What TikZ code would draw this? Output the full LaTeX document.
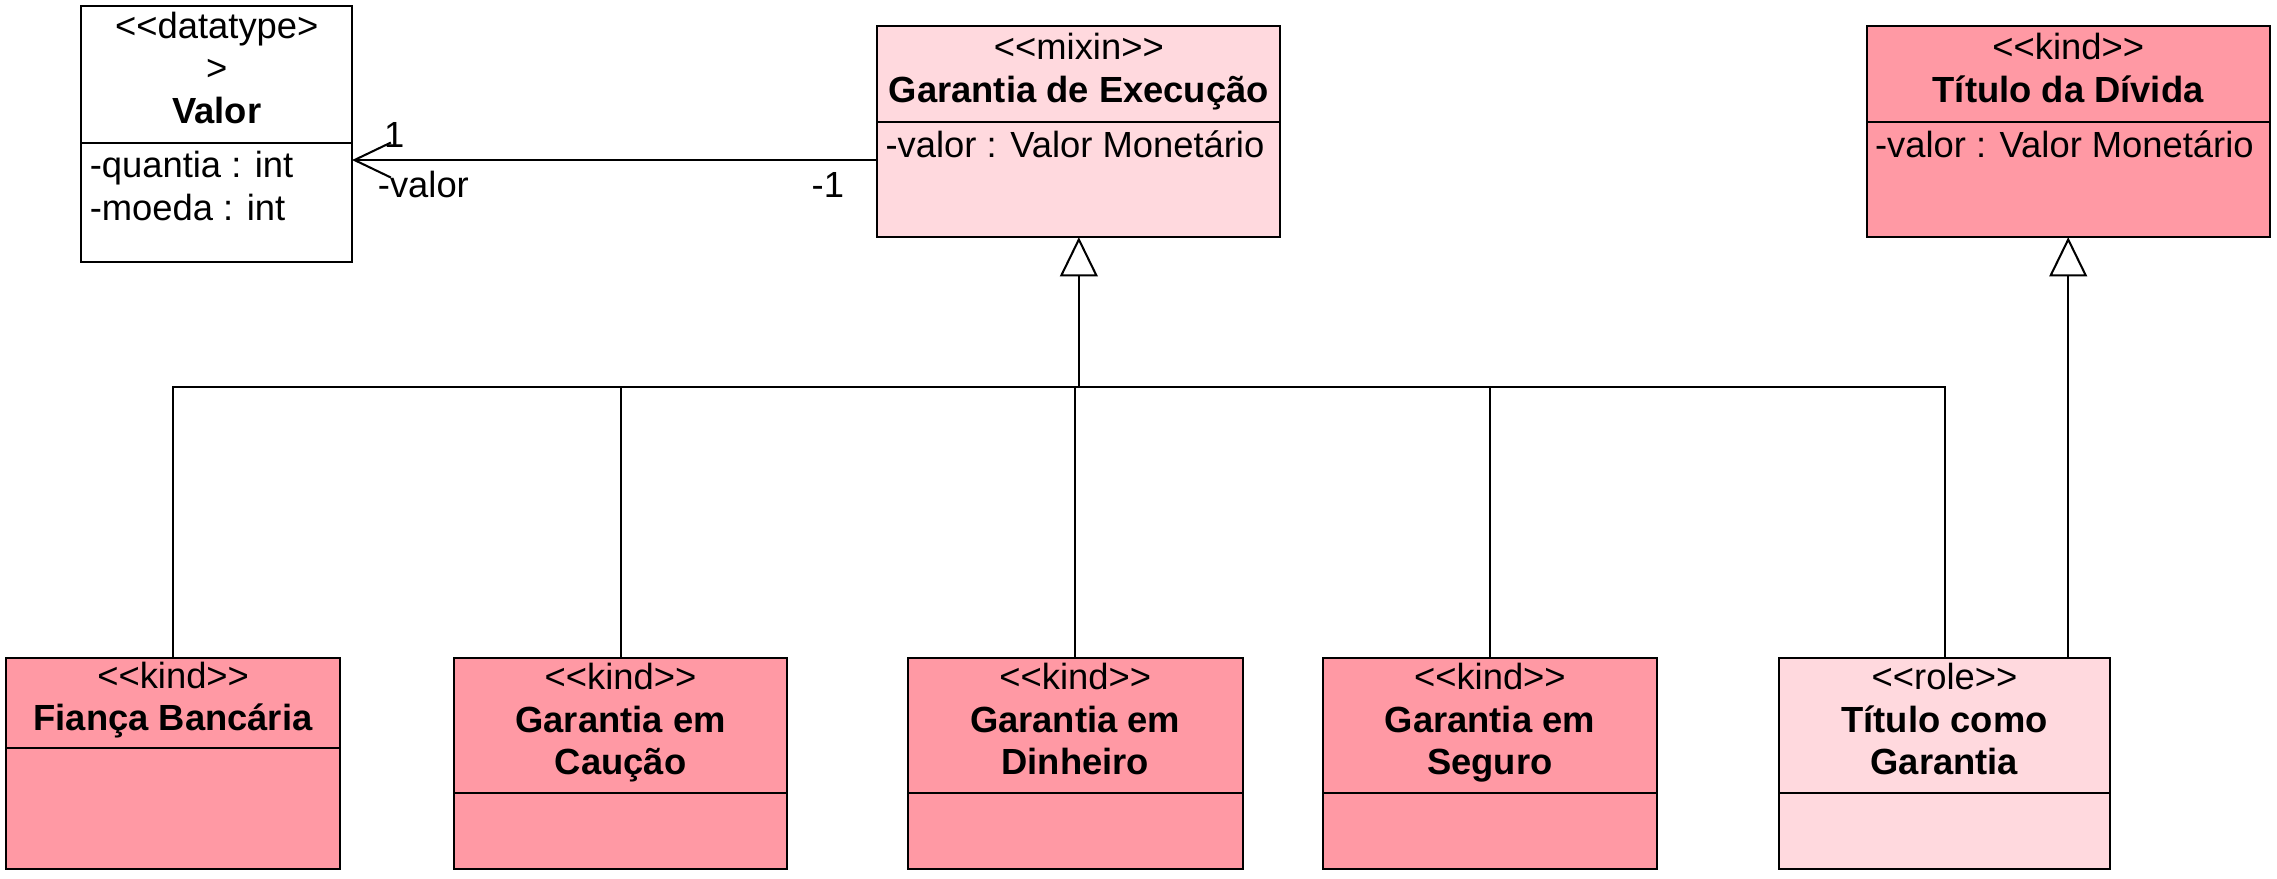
\documentclass[tikz,border=0pt]{standalone}
\usepackage{fontspec}
\setmainfont{Liberation Sans}[Ligatures=TeXOff]
\usetikzlibrary{positioning,arrows.meta}
\definecolor{kindpink}{RGB}{255,153,164}
\definecolor{rolepink}{RGB}{255,217,222}
\newcommand{\stereo}[1]{<<#1>>}

\begin{document}
\begin{tikzpicture}[
        x=0.5pt, y=-0.5pt,
        line width=0.7pt,
        font=\fontsize{12.5}{14.75}\selectfont,
        umlclass/.style ={draw, anchor=north west, align=center, inner sep=0pt, outer sep=0pt, minimum width=#1,
            execute at begin node=\strut, execute at end node=\strut},
        umlbody/.style ={draw, inner sep=0pt, outer sep=0pt, below=0pt of #1},
        attr/.style ={anchor=north west, align=left, inner sep=2.5pt},
        gen/.style ={-{Triangle[open,length=13.5pt,width=13pt,fill=white]}},
        assoc/.style ={-{Straight Barb[length=12.5pt,width=12pt]}},
    ]
    \useasboundingbox (0,0) rectangle (1565,604);

    % top row
    \node[umlclass=93pt, minimum height=47pt, fill=white] (valor) at (56,4) {<<datatype>\\>\\\textbf{Valor}};
    \node[umlbody=valor, minimum width=93pt, minimum height=41pt, fill=white] (valorB) {};
    \node[attr] (valorA) at (valorB.north west) {-quantia : int\\-moeda : int};

    \node[umlclass=138.5pt, minimum height=33pt, fill=rolepink] (gexec) at (603,18) {\stereo{mixin}\\\textbf{Garantia de Execução}};
    \node[umlbody=gexec, minimum width=138.5pt, minimum height=39.5pt, fill=rolepink] (gexecB) {};
    \node[attr] (gexecA) at (gexecB.north west) {-valor : Valor Monetário};

    \node[umlclass=138.5pt, minimum height=33pt, fill=kindpink] (tdivida) at (1283,18) {\stereo{kind}\\\textbf{Título da Dívida}};
    \node[umlbody=tdivida, minimum width=138.5pt, minimum height=39.5pt, fill=kindpink] (tdividaB) {};
    \node[attr] (tdividaA) at (tdividaB.north west) {-valor : Valor Monetário};

    % bottom row
    \node[umlclass=115pt, minimum height=31pt, fill=kindpink] (fianca) at (4,452) {\stereo{kind}\\\textbf{Fiança Bancária}};
    \node[umlbody=fianca, minimum width=115pt, minimum height=41.5pt, fill=kindpink] (fiancaB) {};

    \node[umlclass=114.5pt, minimum height=46.5pt, fill=kindpink] (caucao) at (312,452) {\stereo{kind}\\\textbf{Garantia em}\\\textbf{Caução}};
    \node[umlbody=caucao, minimum width=114.5pt, minimum height=26pt, fill=kindpink] (caucaoB) {};

    \node[umlclass=115pt, minimum height=46.5pt, fill=kindpink] (dinheiro) at (624,452) {\stereo{kind}\\\textbf{Garantia em}\\\textbf{Dinheiro}};
    \node[umlbody=dinheiro, minimum width=115pt, minimum height=26pt, fill=kindpink] (dinheiroB) {};

    \node[umlclass=115pt, minimum height=46.5pt, fill=kindpink] (seguro) at (909,452) {\stereo{kind}\\\textbf{Garantia em}\\\textbf{Seguro}};
    \node[umlbody=seguro, minimum width=115pt, minimum height=26pt, fill=kindpink] (seguroB) {};

    \node[umlclass=113.5pt, minimum height=46.5pt, fill=rolepink] (tgarantia) at (1223,452) {\stereo{role}\\\textbf{Título como}\\\textbf{Garantia}};
    \node[umlbody=tgarantia, minimum width=113.5pt, minimum height=26pt, fill=rolepink] (tgarantiaB) {};

    % association
    \draw[assoc] (gexecB.west) ++(0,-13.5) coordinate (gleft) -- (gleft -| valorB.east);
    \node (mvalor) at (271,93) {1};
    \node (rvalor) at (291,127) {-valor};
    \node (mgexec) at (569,127) {-1};

    % generalizations
    \coordinate (gbar) at (gexecB.south |- 0,266);
    \foreach \c in {fianca,caucao,dinheiro,seguro,tgarantia}
        \draw (\c.north) |- (gbar);
    \draw[gen] (gbar) -- (gexecB.south);
    \draw[gen] (tgarantia.north -| tdividaB.south) -- (tdividaB.south);

\end{tikzpicture}
\end{document}
